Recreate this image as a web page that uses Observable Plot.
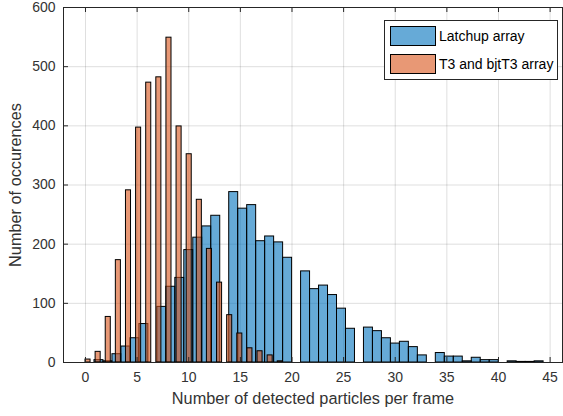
<!DOCTYPE html>
<html>
<head>
<meta charset="utf-8">
<script src="https://cdn.jsdelivr.net/npm/d3@7"></script>
<script src="https://cdn.jsdelivr.net/npm/@observablehq/plot@0.6"></script>
<style>
  html, body { margin: 0; padding: 0; background: #fff; }
  #wrap { position: relative; width: 563px; height: 416px; font-family: "Liberation Sans", Arial, sans-serif; }
  #legend { position: absolute; left: 384px; top: 20px; width: 172px; height: 58px; border: 1px solid #262626; background: #fff; }
  .item { position: absolute; left: 5px; height: 20px; display: flex; align-items: center; font-size: 14px; color: #000; }
  .sw { width: 44px; height: 18px; border: 1px solid #000; margin-right: 3px; }
</style>
</head>
<body>
<div id="wrap"></div>
<script>
// Per-integer counts (k = number of detected particles per frame)
const latchupCounts = [0, 4, 2, 14, 27, 41, 65, 94, 128, 143, 190, 211, 230, 248, 288, 260, 266, 205, 213, 203, 177, 154, 124, 130, 114, 91, 57, 59, 53, 41, 32, 35, 26, 12, 16, 10, 10, 2, 8, 4, 4, 2, 1, 1, 2];
const t3Counts = [5, 18, 77, 173, 291, 397, 473, 482, 549, 399, 352, 275, 192, 135, 80, 49, 24, 19, 12, 2];
// Histogram bin widths
const latchupBinWidth = 0.87;
const t3BinWidth = 0.49;
const seriesNames = ["Latchup array", "T3 and bjtT3 array"];
const xTicks = [0, 5, 10, 15, 20, 25, 30, 35, 40, 45];
const yTicks = [0, 100, 200, 300, 400, 500, 600];
const xLabel = "Number of detected particles per frame";
const yLabel = "Number of occurences";

function binRows(counts, w) {
  return counts.map((c, k) => {
    const b = Math.floor(k / w + 1e-9);
    return {x1: b * w, x2: (b + 1) * w, count: c};
  }).filter(d => d.count > 0);
}
const latchupRows = binRows(latchupCounts, latchupBinWidth);
const t3Rows = binRows(t3Counts, t3BinWidth);

const W = 563, H = 416, mL = 63, mR = 1, mT = 7, mB = 54;
const innerW = W - mL - mR, innerH = H - mT - mB;
const axisColor = "#262626";

const chart = Plot.plot({
  width: W, height: H,
  marginLeft: mL, marginRight: mR, marginTop: mT, marginBottom: mB,
  x: {domain: [-2.13, 46.2]},
  y: {domain: [0, 600]},
  style: {fontFamily: "'Liberation Sans', Arial, sans-serif", fontSize: "14px", color: axisColor, background: "#fff", overflow: "visible"},
  marks: [
    Plot.gridX(xTicks, {stroke: axisColor, strokeOpacity: 0.15}),
    Plot.gridY(yTicks, {stroke: axisColor, strokeOpacity: 0.15}),
    Plot.rectY(latchupRows, {x1: "x1", x2: "x2", y: "count", fill: "#0072BD", fillOpacity: 0.6, stroke: "#000", strokeWidth: 1}),
    Plot.rectY(t3Rows, {x1: "x1", x2: "x2", y: "count", fill: "#D95319", fillOpacity: 0.6, stroke: "#000", strokeWidth: 1}),
    // inward tick marks
    Plot.ruleX(xTicks, {x: d => d, insetTop: innerH - 5, stroke: axisColor}),
    Plot.ruleX(xTicks, {x: d => d, insetBottom: innerH - 5, stroke: axisColor}),
    Plot.ruleY(yTicks, {y: d => d, insetRight: innerW - 5, stroke: axisColor}),
    Plot.frame({stroke: axisColor}),
    Plot.axisX(xTicks, {tickSize: 0, tickPadding: 10, label: null, fill: "#333"}),
    Plot.axisY(yTicks, {tickSize: 0, tickPadding: 8, label: null, fill: "#333"}),
    Plot.text([xLabel], {frameAnchor: "bottom", dy: 41, fontSize: 16.3, fill: "#333"}),
    Plot.text([yLabel], {frameAnchor: "left", textAnchor: "middle", dx: -48, rotate: -90, fontSize: 16.3, fill: "#333"})
  ]
});

const wrap = document.getElementById("wrap");
wrap.appendChild(chart);

const legend = document.createElement("div");
legend.id = "legend";
const colors = ["rgba(0,114,189,0.6)", "rgba(217,83,25,0.6)"];
seriesNames.forEach((name, i) => {
  const it = document.createElement("div");
  it.className = "item";
  it.style.top = (5 + i * 28) + "px";
  const sw = document.createElement("div");
  sw.className = "sw";
  sw.style.background = colors[i];
  const t = document.createElement("span");
  t.textContent = name;
  it.appendChild(sw);
  it.appendChild(t);
  legend.appendChild(it);
});
wrap.appendChild(legend);
</script>
</body>
</html>
